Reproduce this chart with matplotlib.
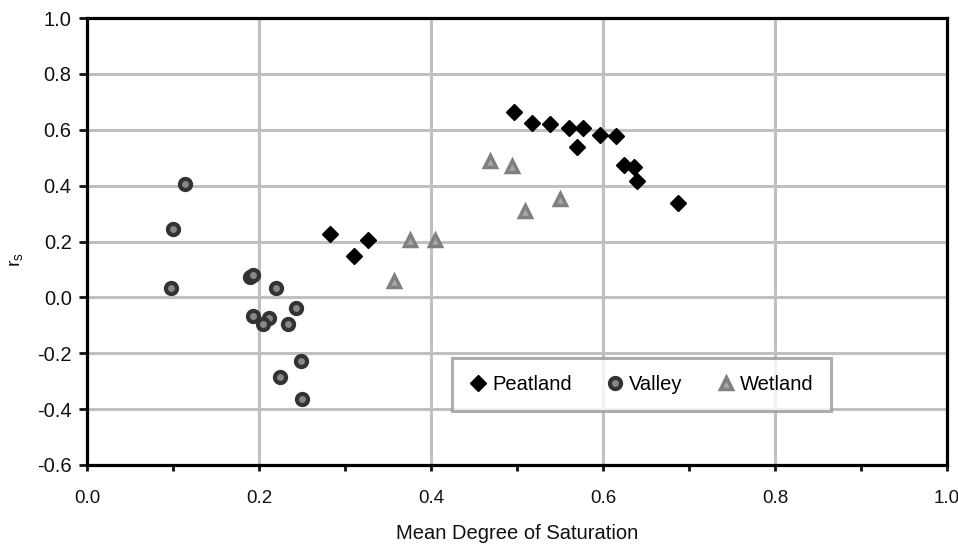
import matplotlib
matplotlib.use("Agg")
import matplotlib.pyplot as plt
from matplotlib.ticker import MultipleLocator

plt.rcParams['font.family'] = ['Liberation Sans', 'DejaVu Sans']

# Peatland
peat_x = [0.283, 0.310, 0.327, 0.496, 0.517, 0.538, 0.560, 0.577, 0.570,
          0.596, 0.615, 0.624, 0.636, 0.639, 0.687]
peat_y = [0.227, 0.148, 0.205, 0.662, 0.624, 0.619, 0.606, 0.605, 0.537,
          0.581, 0.577, 0.475, 0.468, 0.415, 0.339]

# Valley
valley_x = [0.114, 0.100, 0.098, 0.190, 0.193, 0.220, 0.193, 0.212, 0.205,
            0.234, 0.243, 0.249, 0.224, 0.250]
valley_y = [0.407, 0.243, 0.032, 0.072, 0.079, 0.032, -0.066, -0.074, -0.097,
            -0.096, -0.039, -0.229, -0.286, -0.364]

# Wetland
wet_x = [0.469, 0.494, 0.509, 0.550, 0.376, 0.405, 0.357]
wet_y = [0.489, 0.471, 0.308, 0.351, 0.206, 0.206, 0.058]

fig = plt.figure(figsize=(9.58, 5.46), dpi=100)
ax = fig.add_axes([87/958, 1 - 465/546, (947 - 87)/958, (465 - 18)/546])

ax.plot(peat_x, peat_y, 'D', color='black', ms=8.5, mew=1, label='Peatland',
        linestyle='none', zorder=3)
ax.plot(valley_x, valley_y, 'o', mfc='#888888', mec='#333333', ms=8, mew=3,
        label='Valley', linestyle='none', zorder=3)
ax.plot(wet_x, wet_y, '^', mfc='#a8a8a8', mec='#808080', ms=9, mew=2.5,
        label='Wetland', linestyle='none', zorder=3)

ax.set_xlim(0, 1.0)
ax.set_ylim(-0.6, 1.0)
ax.xaxis.set_major_locator(MultipleLocator(0.2))
ax.xaxis.set_minor_locator(MultipleLocator(0.1))
ax.yaxis.set_major_locator(MultipleLocator(0.2))
ax.xaxis.set_major_formatter(plt.FuncFormatter(lambda v, p: '%.1f' % v))
ax.yaxis.set_major_formatter(plt.FuncFormatter(lambda v, p: '%.1f' % v))

ax.grid(True, which='major', color='#c0c0c0', linewidth=2.2)
ax.set_axisbelow(True)

for s in ax.spines.values():
    s.set_linewidth(2.3)
    s.set_color('black')

ax.tick_params(axis='y', which='major', direction='out', length=6, width=2,
               labelsize=14.5, pad=5, colors='#111111')
ax.tick_params(axis='x', which='both', direction='out', length=4, width=2,
               labelsize=13.5, pad=14, colors='#111111')

ax.set_xlabel('Mean Degree of Saturation', fontsize=14.5, labelpad=12,
              color='#111111')
ax.set_ylabel(r'$\mathregular{r_s}$', fontsize=14, color='#111111')
ax.yaxis.set_label_coords(-0.072, 0.459)

leg = ax.legend(loc='upper left', bbox_to_anchor=(0.4244, 0.2394), ncol=3,
                fontsize=14.5, frameon=True, fancybox=False, handletextpad=0.25,
                columnspacing=1.7, borderpad=0.85, handlelength=0.9,
                borderaxespad=0)
leg.get_frame().set_edgecolor('#999999')
leg.get_frame().set_linewidth(2.2)

fig.savefig('out.png', dpi=100)
